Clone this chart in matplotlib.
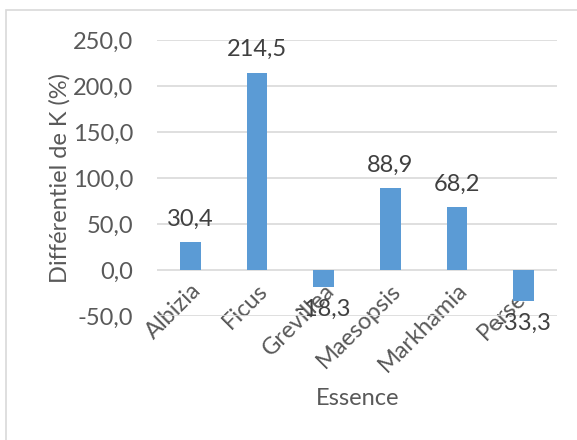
import numpy as np
import matplotlib.pyplot as plt
from matplotlib.patches import Rectangle

# Chart values
essences = ["Albizia", "Ficus", "Grevillea", "Maesopsis", "Markhamia", "Persea"]
differentiel = [30.4, 214.5, -18.3, 88.9, 68.2, -33.3]
yticks = [-50, 0, 50, 100, 150, 200, 250]

grey = "#595959"
fs = 17
plt.rcParams['font.family'] = ['Lato', 'DejaVu Sans']

fig = plt.figure(figsize=(5.77, 4.4), dpi=100)
ax = fig.add_axes([0.272, 0.282, 0.693, 0.627])

x = np.arange(len(essences))
ax.bar(x, differentiel, width=0.31, color="#5B9BD5", zorder=3)

# Data labels, French decimal format
for xi, v in zip(x, differentiel):
    txt = f"{v:.1f}".replace(".", ",")
    if v >= 0:
        ax.annotate(txt, (xi, v), xytext=(0, 9), textcoords="offset points",
                    ha="center", va="bottom", fontsize=fs, color="#404040", zorder=4)
    else:
        ax.annotate(txt, (xi, v), xytext=(0, -9), textcoords="offset points",
                    ha="center", va="top", fontsize=fs, color="#404040", zorder=4)

# category axis crosses at zero, like the original
ax.spines["bottom"].set_position(("data", 0))
for s in ax.spines.values():
    s.set_visible(False)

ax.set_xlim(-0.5, len(essences) - 0.5)
ax.set_ylim(-50, 250)
ax.set_yticks(yticks)
ax.set_yticklabels([f"{t:.1f}".replace(".", ",") for t in yticks], fontsize=fs, color=grey)
ax.set_xticks(x)
ax.set_xticklabels(essences, rotation=45, ha="right", va="top", rotation_mode="anchor",
                   fontsize=fs, color=grey)
ax.tick_params(axis="y", length=0, pad=17)
ax.tick_params(axis="x", length=0, pad=7)

ax.grid(axis="y", color="#D9D9D9", linewidth=1.2, zorder=0)

ax.set_ylabel("Différentiel de K (%)", fontsize=fs, color=grey)
ax.yaxis.set_label_coords(-0.215, 0.5)
fig.text(0.619, 0.095, "Essence", ha="center", va="center", fontsize=fs, color=grey)

# Chart area border
fig.patches.append(Rectangle((6 / 577, -0.05), 1.0, 1.05 - 10 / 440, transform=fig.transFigure,
                             fill=False, edgecolor="#D9D9D9", linewidth=1.2))

fig.savefig("out.png", dpi=100)
